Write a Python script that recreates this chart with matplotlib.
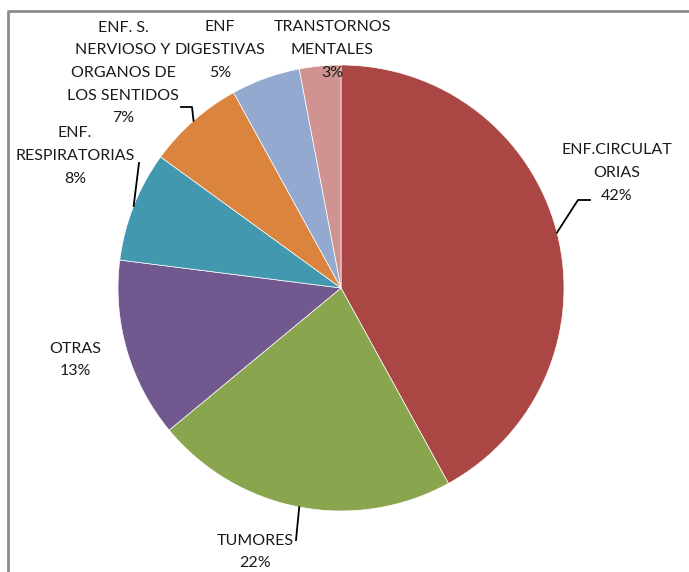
import numpy as np
import matplotlib.pyplot as plt

# Mortality causes (share in %)
labels = ['ENF.CIRCULAT\nORIAS', 'TUMORES', 'OTRAS', 'ENF.\nRESPIRATORIAS',
          'ENF. S.\nNERVIOSO Y\nORGANOS DE\nLOS SENTIDOS', 'ENF\nDIGESTIVAS',
          'TRANSTORNOS\nMENTALES']
values = [42, 22, 13, 8, 7, 5, 3]
colors = ['#AA4643', '#89A54E', '#71588F', '#4198AF', '#DB843D', '#93A9CF', '#D19392']

W, H = 689, 572
fig = plt.figure(figsize=(W / 100, H / 100), dpi=100)
ax = fig.add_axes([0, 0, 1, 1])

cx, cy, r = 341, H - 288, 223
ax.pie(values, colors=colors, startangle=90, counterclock=False,
       center=(cx, cy), radius=r, frame=True,
       wedgeprops=dict(linewidth=0.5, edgecolor='white'))
ax.set_xlim(0, W)
ax.set_ylim(0, H)
ax.set_aspect('equal')
ax.axis('off')

# label centers (pixel coords from top) and leader elbows
label_pos = [(617, 173), (255, 552), (75, 360), (75, 156), (123, 73), (220, 50), (332, 50)]
elbows = [[(578, 200), (590, 200)], [(296, 540)], None, [(139, 163)],
          [(192, 107), (181, 107)], None, None]

total = sum(values)
cum = 0
for lab, v, (lx, ly), elb in zip(labels, values, label_pos, elbows):
    mid = 90 - (cum + v / 2) / total * 360
    cum += v
    ax.text(lx, H - ly, f'{lab}\n{v}%', ha='center', va='center',
            fontsize=11.5, family='Lato', color='#1a1a1a', linespacing=1.78)
    if elb:
        sx = cx + r * np.cos(np.radians(mid))
        sy = cy + r * np.sin(np.radians(mid))
        xs = [sx] + [p[0] for p in elb]
        ys = [sy] + [H - p[1] for p in elb]
        ax.plot(xs, ys, color='black', lw=1.3)

# chart border (top and left visible)
ax.plot([8, 8, W + 5], [-5, H - 11, H - 11], color='#8c8c8c', lw=2)

fig.savefig('out.png', dpi=100)
